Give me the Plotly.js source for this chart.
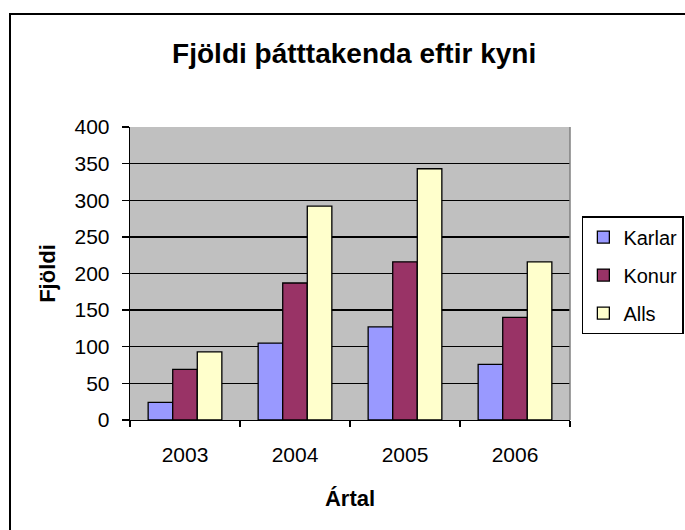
<!DOCTYPE html>
<html>
<head>
<meta charset="utf-8">
<script src="https://cdn.plot.ly/plotly-3.0.1.min.js"></script>
<style>
html,body{margin:0;padding:0;background:#fff;}
#wrap{position:relative;width:685px;height:530px;overflow:hidden;}
#chart{width:685px;height:530px;}
#frame{position:absolute;left:9px;top:13px;width:800px;height:700px;border-top:2px solid #000;border-left:2px solid #000;pointer-events:none;}
</style>
</head>
<body>
<div id="wrap"><div id="chart"></div><div id="frame"></div></div>
<script>
const years = ['2003', '2004', '2005', '2006'];
const karlar = [24, 105, 127, 76];
const konur = [69, 187, 216, 140];
const alls = [93, 292, 343, 216];
const seriesNames = ['Karlar', 'Konur', 'Alls'];
const seriesColors = ['#9999FF', '#993366', '#FFFFCC'];
const yTicks = [0, 50, 100, 150, 200, 250, 300, 350, 400];

const FONT = 'Liberation Sans, Arial, sans-serif';
const allSeries = [karlar, konur, alls];
const traces = allSeries.map((vals, i) => ({
  type: 'bar',
  name: seriesNames[i],
  x: years,
  y: vals,
  legendgroup: 'g' + i,
  marker: {color: seriesColors[i], line: {color: '#000', width: 1.3}},
  hoverinfo: 'x+y+name'
}));

const layout = {
  width: 685, height: 530,
  margin: {l: 130, r: 115, t: 127, b: 110, autoexpand: false},
  paper_bgcolor: '#ffffff',
  plot_bgcolor: '#C0C0C0',
  barmode: 'group',
  bargap: 0.33,
  bargroupgap: 0,
  title: {
    text: '<b>Fjöldi þátttakenda eftir kyni</b>',
    font: {family: FONT, size: 28, color: '#000'},
    x: 0.517, xref: 'container', xanchor: 'center',
    y: 0.9, yref: 'container', yanchor: 'middle'
  },
  xaxis: {
    type: 'category',
    tickson: 'boundaries',
    ticks: 'outside', ticklen: 6, tickwidth: 1.3, tickcolor: '#000',
    showline: true, linecolor: '#000', linewidth: 1.3,
    showgrid: false, zeroline: false,
    tickfont: {family: FONT, size: 21, color: '#000'},
    ticklabelstandoff: 15,
    title: {text: '<b>Ártal</b>', font: {family: FONT, size: 22, color: '#000'}, standoff: 26},
    automargin: false
  },
  yaxis: {
    range: [0, 400],
    tickvals: yTicks,
    ticktext: yTicks.map(String),
    ticks: 'outside', ticklen: 7, tickwidth: 1.3, tickcolor: '#000',
    showline: true, linecolor: '#000', linewidth: 1.3,
    showgrid: true, gridcolor: '#000', gridwidth: 1.3,
    zeroline: false,
    tickfont: {family: FONT, size: 21, color: '#000'},
    ticklabelstandoff: 8,
    title: {text: '<b>Fjöldi</b>', font: {family: FONT, size: 22, color: '#000'}, standoff: 12},
    automargin: false
  },
  shapes: [{
    type: 'line', xref: 'paper', yref: 'paper', x0: 1, x1: 1, y0: 0, y1: 1,
    line: {color: '#808080', width: 1.5}
  }],
  showlegend: true,
  legend: {
    x: 1.027, xanchor: 'left', y: 0.696, yanchor: 'top',
    bgcolor: '#ffffff', bordercolor: '#000', borderwidth: 1.5,
    font: {family: FONT, size: 20, color: '#000'},
    traceorder: 'grouped', tracegroupgap: 9,
    itemclick: false, itemdoubleclick: false
  }
};

Plotly.newPlot('chart', traces, layout, {displayModeBar: false, staticPlot: true});
</script>
</body>
</html>
